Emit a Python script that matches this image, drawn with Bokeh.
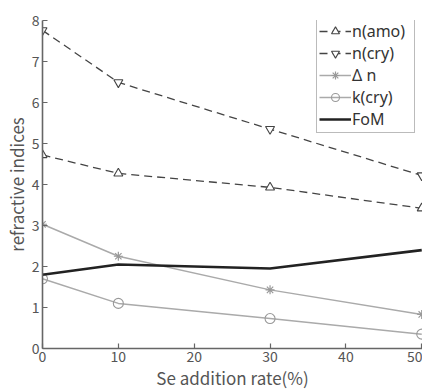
from bokeh.plotting import figure
from bokeh.models import Range1d, FixedTicker, Legend, LegendItem
from bokeh.embed import file_html
from bokeh.resources import INLINE

# Se addition rate (%)
se_rate = [0, 10, 30, 50]

# refractive indices and figure of merit
n_amo = [4.72, 4.27, 3.93, 3.42]
n_cry = [7.76, 6.49, 5.35, 4.22]
delta_n = [3.03, 2.25, 1.43, 0.83]
k_cry = [1.70, 1.10, 0.73, 0.35]
fom = [1.80, 2.05, 1.95, 2.40]

x_ticks = [0, 10, 20, 30, 40, 50]
y_ticks = [0, 1, 2, 3, 4, 5, 6, 7, 8]

FONT = "Noto Sans CJK JP"
AXIS_COLOR = "#666666"
TEXT_COLOR = "#555555"
DARK = "#444444"
LIGHT = "#aaaaaa"

p = figure(width=422, height=392, output_backend="svg", toolbar_location=None,
           x_range=Range1d(0, 50.1), y_range=Range1d(0, 8.0),
           min_border_left=30, min_border_right=0, min_border_top=20,
           min_border_bottom=30)
p.outline_line_color = None
p.xgrid.visible = False
p.ygrid.visible = False
p.background_fill_color = "white"
p.border_fill_color = "white"

# series
r_amo_l = p.line(se_rate, n_amo, line_color=DARK, line_width=1.3, line_dash="8 5")
r_amo_m = p.scatter(se_rate, n_amo, marker="triangle", size=9, line_color=DARK,
                    fill_color="white", line_width=1.1)
r_cry_l = p.line(se_rate, n_cry, line_color=DARK, line_width=1.3, line_dash="8 5")
r_cry_m = p.scatter(se_rate, n_cry, marker="inverted_triangle", size=9, line_color=DARK,
                    fill_color="white", line_width=1.1)
r_dn_l = p.line(se_rate, delta_n, line_color=LIGHT, line_width=1.5)
r_dn_m = p.scatter(se_rate, delta_n, marker="asterisk", size=9, line_color="#999999",
                   line_width=1.2)
r_k_l = p.line(se_rate, k_cry, line_color=LIGHT, line_width=1.5)
r_k_m = p.scatter(se_rate, k_cry, marker="circle", size=10, line_color="#999999",
                  fill_color="white", fill_alpha=0.0, line_width=1.1)
r_fom = p.line(se_rate, fom, line_color="#222222", line_width=2.6)

# axes
for ax in (p.xaxis[0], p.yaxis[0]):
    ax.axis_line_color = AXIS_COLOR
    ax.axis_line_width = 1.6
    ax.major_tick_line_color = AXIS_COLOR
    ax.major_tick_line_width = 1.2
    ax.major_tick_in = 5
    ax.major_tick_out = 0
    ax.minor_tick_line_color = None
    ax.major_label_text_font = FONT
    ax.major_label_text_font_size = "14px"
    ax.major_label_text_color = TEXT_COLOR
    ax.axis_label_text_font = FONT
    ax.axis_label_text_font_size = "17px"
    ax.axis_label_text_font_style = "normal"
    ax.axis_label_text_color = TEXT_COLOR

p.xaxis.ticker = FixedTicker(ticks=x_ticks)
p.yaxis.ticker = FixedTicker(ticks=y_ticks)
p.xaxis.axis_label = "Se addition rate(%)"
p.yaxis.axis_label = "refractive indices"
p.xaxis.major_label_standoff = 2
p.yaxis.major_label_standoff = 3
p.xaxis.axis_label_standoff = 0
p.yaxis.axis_label_standoff = 0

legend = Legend(items=[
    LegendItem(label="n(amo)", renderers=[r_amo_l, r_amo_m]),
    LegendItem(label="n(cry)", renderers=[r_cry_l, r_cry_m]),
    LegendItem(label="Δ n", renderers=[r_dn_l, r_dn_m]),
    LegendItem(label="k(cry)", renderers=[r_k_l, r_k_m]),
    LegendItem(label="FoM", renderers=[r_fom]),
], location=(274, 215))
legend.label_text_font = "Noto Sans"
legend.label_text_font_size = "16px"
legend.label_text_color = "#333333"
legend.border_line_color = "#777777"
legend.border_line_width = 1.2
legend.background_fill_color = "white"
legend.background_fill_alpha = 1.0
legend.padding = 2
legend.margin = 0
legend.spacing = 0
legend.glyph_width = 32
legend.glyph_height = 20
legend.label_height = 20
legend.label_width = 60
legend.label_standoff = 1
p.add_layout(legend, "center")

open("out.html", "w").write(file_html(p, INLINE))
